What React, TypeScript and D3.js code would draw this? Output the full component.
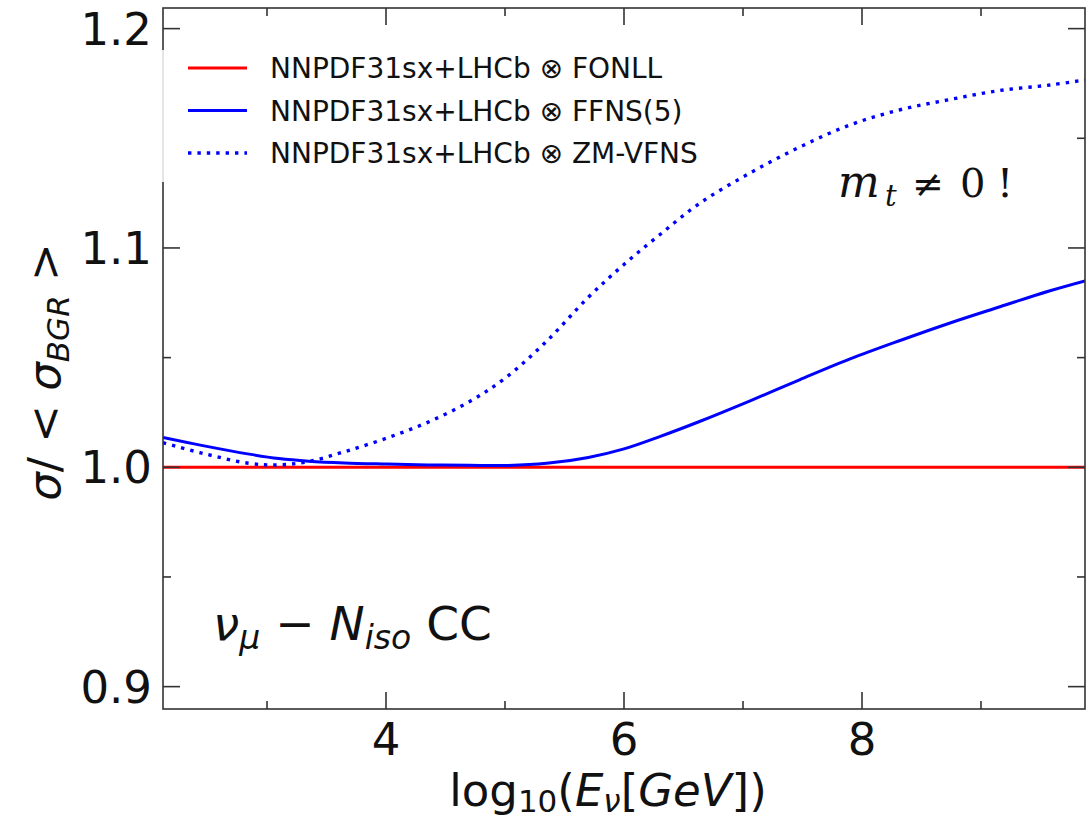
import * as d3 from "d3";

// log10(E_nu / GeV)
const logE = [2.126, 2.45, 2.85, 3.1, 3.35, 3.65, 4.0, 4.35, 4.7, 5.0, 5.35, 5.7, 6.0, 6.3, 6.64, 7.06, 7.48, 7.9, 8.32, 8.74, 9.16, 9.58, 9.874];
// ratio to <sigma_BGR>
const fonll = [1, 1, 1, 1, 1, 1, 1, 1, 1, 1, 1, 1, 1, 1, 1, 1, 1, 1, 1, 1, 1, 1, 1];
const ffns5 = [1.0136, 1.01, 1.006, 1.004, 1.0028, 1.002, 1.0015, 1.0011, 1.0009, 1.0008, 1.0018, 1.0045, 1.0084, 1.014, 1.021, 1.0303, 1.04, 1.0494, 1.0578, 1.0658, 1.0732, 1.0805, 1.085];
const zmvfns = [1.0112, 1.0065, 1.0018, 1.0011, 1.0026, 1.0071, 1.0132, 1.0205, 1.0299, 1.0406, 1.0575, 1.0775, 1.0925, 1.106, 1.1205, 1.1342, 1.1461, 1.1561, 1.163, 1.1677, 1.1718, 1.1743, 1.1766];

const xMajor = [4, 6, 8];
const xMinor = [3, 5, 7, 9];
const yMajor = [0.9, 1.0, 1.1, 1.2];
const yMinor = [0.95, 1.05, 1.15];

const legendLabels = [
  "NNPDF31sx+LHCb ⊗ FONLL",
  "NNPDF31sx+LHCb ⊗ FFNS(5)",
  "NNPDF31sx+LHCb ⊗ ZM-VFNS",
];

const W = 1087;
const H = 822;
const box = { left: 163, right: 1085, top: 8, bottom: 709 };
const sans = "'DejaVu Sans', sans-serif";
const axisColor = "#333";

export default function App() {
  const x = d3.scaleLinear().domain([2.126, 9.874]).range([box.left, box.right]);
  const y = d3.scaleLinear().domain([0.8898, 1.2094]).range([box.bottom, box.top]);

  const line = (vals: number[]) =>
    d3
      .line<number>()
      .x((_, i) => x(logE[i]))
      .y((d) => y(d))
      .curve(d3.curveCatmullRom.alpha(0.5))(vals) || "";

  const series = [
    { vals: fonll, color: "#ff0000", dash: undefined as string | undefined, w: 3 },
    { vals: ffns5, color: "#0000ff", dash: undefined as string | undefined, w: 3 },
    { vals: zmvfns, color: "#0000ff", dash: "3.4 6", w: 3.4 },
  ];

  const maj = 17;
  const min = 8;

  return (
    <svg
      width={W}
      height={H}
      style={{ position: "absolute", left: 0, top: 0, background: "#fff" }}
      fontFamily={sans}
    >
      <defs>
        <clipPath id="plotclip">
          <rect x={box.left} y={box.top} width={box.right - box.left} height={box.bottom - box.top} />
        </clipPath>
      </defs>

      {/* curves */}
      <g clipPath="url(#plotclip)">
        {series.map((s, i) => (
          <path key={i} d={line(s.vals)} fill="none" stroke={s.color} strokeWidth={s.w} strokeDasharray={s.dash} />
        ))}
      </g>

      {/* frame */}
      <rect
        x={box.left}
        y={box.top}
        width={box.right - box.left}
        height={box.bottom - box.top}
        fill="none"
        stroke={axisColor}
        strokeWidth={1.6}
      />

      {/* ticks, inward on all sides */}
      <g stroke={axisColor} strokeWidth={1.6}>
        {xMajor.map((t) => (
          <g key={"xM" + t}>
            <line x1={x(t)} x2={x(t)} y1={box.bottom} y2={box.bottom - maj} />
            <line x1={x(t)} x2={x(t)} y1={box.top} y2={box.top + maj} />
          </g>
        ))}
        {xMinor.map((t) => (
          <g key={"xm" + t}>
            <line x1={x(t)} x2={x(t)} y1={box.bottom} y2={box.bottom - min} />
            <line x1={x(t)} x2={x(t)} y1={box.top} y2={box.top + min} />
          </g>
        ))}
        {yMajor.map((t) => (
          <g key={"yM" + t}>
            <line x1={box.left} x2={box.left + maj} y1={y(t)} y2={y(t)} />
            <line x1={box.right} x2={box.right - maj} y1={y(t)} y2={y(t)} />
          </g>
        ))}
        {yMinor.map((t) => (
          <g key={"ym" + t}>
            <line x1={box.left} x2={box.left + min} y1={y(t)} y2={y(t)} />
            <line x1={box.right} x2={box.right - min} y1={y(t)} y2={y(t)} />
          </g>
        ))}
      </g>

      {/* tick labels */}
      <g fontSize={45} fill="#111">
        {xMajor.map((t) => (
          <text key={"xl" + t} x={x(t)} y={755} textAnchor="middle">
            {d3.format("d")(t)}
          </text>
        ))}
        {yMajor.map((t) => (
          <text key={"yl" + t} x={152} y={y(t)} dy="0.36em" textAnchor="end">
            {d3.format(".1f")(t)}
          </text>
        ))}
      </g>

      {/* axis labels */}
      <text x={608} y={806} fontSize={45} textAnchor="middle" fill="#111">
        log<tspan fontSize={31} dy={6}>10</tspan>
        <tspan dy={-6}>(</tspan>
        <tspan fontStyle="italic">E</tspan>
        <tspan fontStyle="italic" fontSize={31} dy={6}>ν</tspan>
        <tspan dy={-6}>[</tspan>
        <tspan fontStyle="italic">GeV</tspan>
        <tspan>])</tspan>
      </text>
      <text transform="translate(60,372) rotate(-90)" fontSize={45} textAnchor="middle" fill="#111">
        <tspan fontStyle="italic">σ</tspan>
        <tspan>/ &lt; </tspan>
        <tspan fontStyle="italic">σ</tspan>
        <tspan fontStyle="italic" fontSize={31} dy={9}>BGR</tspan>
        <tspan dy={-9}> &gt;</tspan>
      </text>

      {/* annotations */}
      <text x={213} y={640} fontSize={47} fill="#111">
        <tspan fontStyle="italic">ν</tspan>
        <tspan fontStyle="italic" fontSize={33} dy={9}>μ</tspan>
        <tspan dy={-9}> − </tspan>
        <tspan fontStyle="italic">N</tspan>
        <tspan fontStyle="italic" fontSize={33} dy={9}>iso</tspan>
        <tspan dy={-9}> CC</tspan>
      </text>
      <g fontFamily="'DejaVu Serif', serif" fill="#111">
        <text x={838} y={197} fontSize={44} fontStyle="italic">m</text>
        <text x={885} y={206} fontSize={29} fontStyle="italic">t</text>
        <text x={912} y={197} fontSize={38}>≠</text>
        <text x={960} y={197} fontSize={40}>0</text>
        <text x={997} y={197} fontSize={40}>!</text>
      </g>

      {/* legend */}
      <rect x={161} y={50} width={560} height={132} fill="#fff" />
      <line x1={163} x2={163} y1={50} y2={182} stroke="#ccc" strokeWidth={1} />
      {legendLabels.map((lab, i) => {
        const yy = 68 + i * 42.5;
        const s = series[i];
        return (
          <g key={lab}>
            <line x1={188} x2={247} y1={yy} y2={yy} stroke={s.color} strokeWidth={s.w} strokeDasharray={s.dash} />
            <text x={270} y={yy} dy="0.36em" fontSize={28} fill="#111">
              {lab}
            </text>
          </g>
        );
      })}
    </svg>
  );
}
